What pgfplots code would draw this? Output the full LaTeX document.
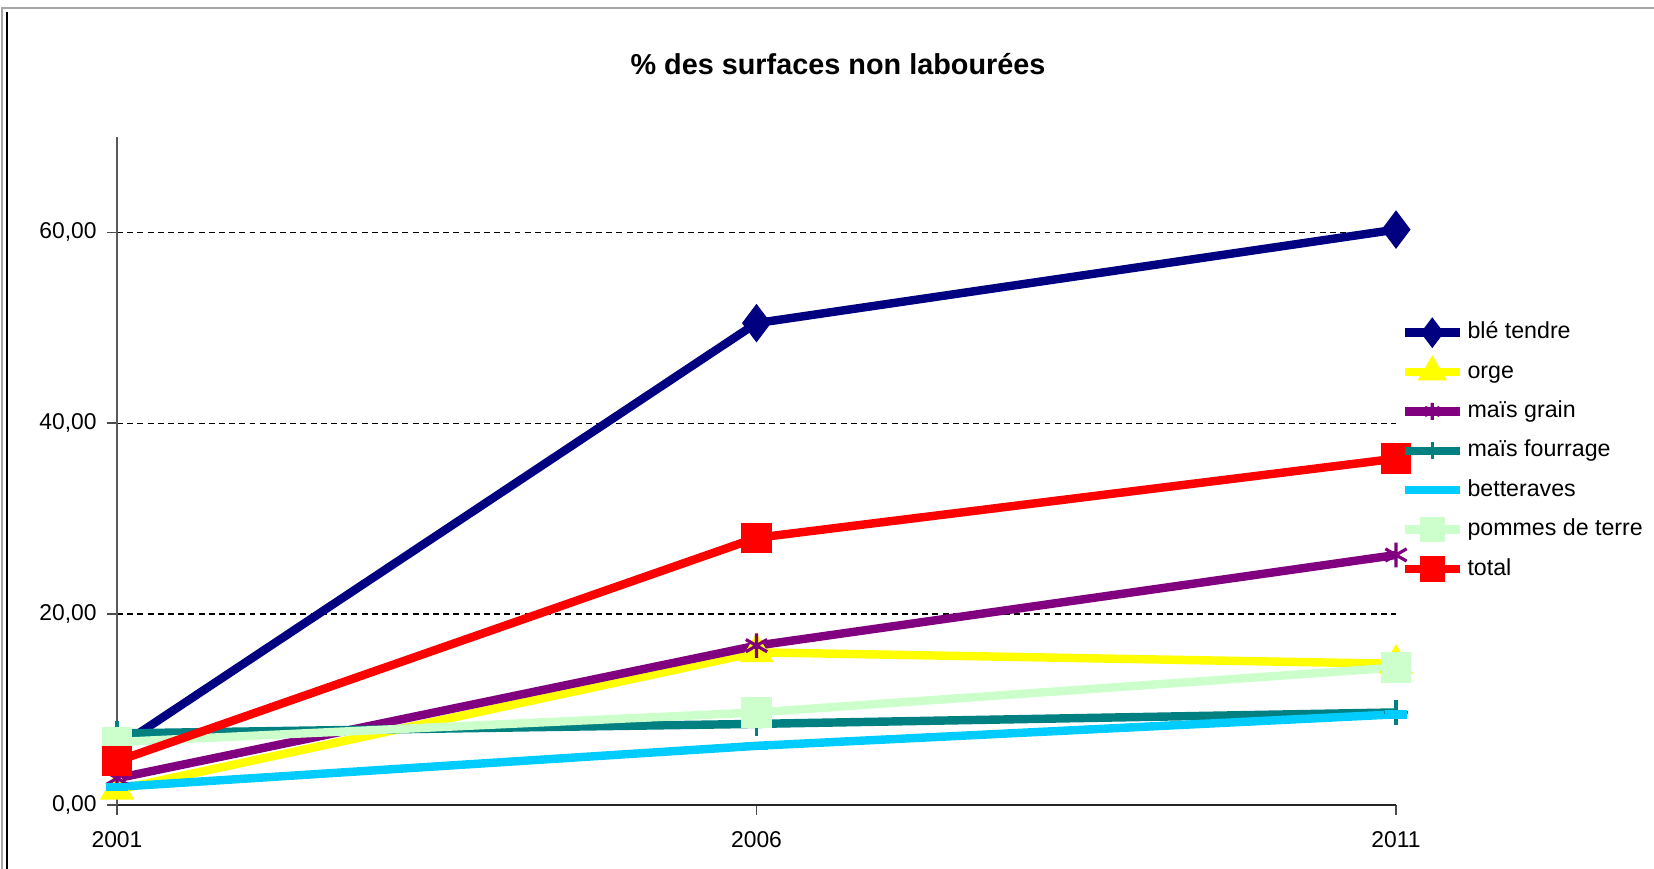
\documentclass[border=0pt]{standalone}
\usepackage{fontspec}
\setmainfont{Liberation Sans}
\usepackage{pgfplots}
\pgfplotsset{compat=1.18}

\definecolor{ble}{HTML}{000080}
\definecolor{orge}{HTML}{FFFF00}
\definecolor{maisg}{HTML}{800080}
\definecolor{maisf}{HTML}{008080}
\definecolor{bett}{HTML}{00CCFF}
\definecolor{pdt}{HTML}{CCFFCC}
\definecolor{tot}{HTML}{FF0000}

\begin{document}
\begin{tikzpicture}
\useasboundingbox (0,0) rectangle (16.54,8.68);
% frame of the chart area
\draw[gray!70, line width=0.6pt] (0.02,-0.5) -- (0.02,8.6) -- (16.6,8.6);
\draw[black, line width=0.5pt] (0.07,-0.5) -- (0.07,8.56);

\node[font=\fontsize{8.2}{10}\selectfont\bfseries] at (8.38,8.04) {\% des surfaces non labourées};

\begin{axis}[
    at={(1.17cm,0.63cm)}, anchor=south west,
    scale only axis,
    width=12.79cm, height=6.68cm,
    xmin=2001, xmax=2011,
    ymin=0, ymax=70,
    xtick={2001,2006,2011},
    xticklabels={2001,2006,2011},
    ytick={0,20,40,60},
    axis lines=left,
    axis line style={-, line width=0.5pt},
    x axis line style={black!85},
    y axis line style={black!65},
    tick align=outside,
    major tick length=0.1cm,
    tick style={black!70, line width=0.5pt},
    ymajorgrids,
    grid style={black, dash pattern=on 1.7pt off 1.2pt, line width=0.4pt},
    yticklabel style={xshift=0.02cm, /pgf/number format/.cd, fixed, fixed zerofill, precision=2, use comma},
    /pgf/number format/assume math mode=true,
    tick label style={font=\fontsize{6.5}{8}\selectfont},
    xticklabel style={yshift=-0.04cm},
    clip=false,
    every axis plot/.append style={line width=2.4pt},
    legend style={at={(1.003,0.7305)}, anchor=north west, draw=none, fill=none,
        font=\fontsize{6.6}{8}\selectfont, row sep=2.7pt, inner sep=0pt,
        nodes={inner sep=1pt, text height=5pt, text depth=1.5pt}},
    legend cell align=left,
    legend image code/.code={
        \draw[mark repeat=2,mark phase=2,mark size=2.4pt] plot coordinates {(0cm,0cm) (0.275cm,0cm) (0.55cm,0cm)};
    },
]

\addplot[color=ble, mark=diamond*, mark size=3.5pt] coordinates {
    (2001,6.0) (2006,50.5) (2011,60.3)
};
\addplot[color=orge, mark=triangle*, mark size=3.2pt] coordinates {
    (2001,1.6) (2006,16.0) (2011,14.8)
};
\addplot[color=maisg, mark=asterisk, mark size=3.5pt, mark options={line width=0.9pt}] coordinates {
    (2001,2.8) (2006,16.7) (2011,26.2)
};
\addplot[color=maisf, mark=+, mark size=3.5pt, mark options={line width=0.9pt}] coordinates {
    (2001,7.5) (2006,8.5) (2011,9.7)
};
\addplot[color=bett, mark=-, mark size=3.2pt] coordinates {
    (2001,1.9) (2006,6.2) (2011,9.5)
};
\addplot[color=pdt, mark=square*, mark size=3.1pt] coordinates {
    (2001,6.6) (2006,9.7) (2011,14.4)
};
\addplot[color=tot, mark=square*, mark size=3.1pt] coordinates {
    (2001,4.6) (2006,28.0) (2011,36.3)
};

\legend{blé tendre, orge, maïs grain, maïs fourrage, betteraves, pommes de terre, total}
\end{axis}
\end{tikzpicture}
\end{document}
